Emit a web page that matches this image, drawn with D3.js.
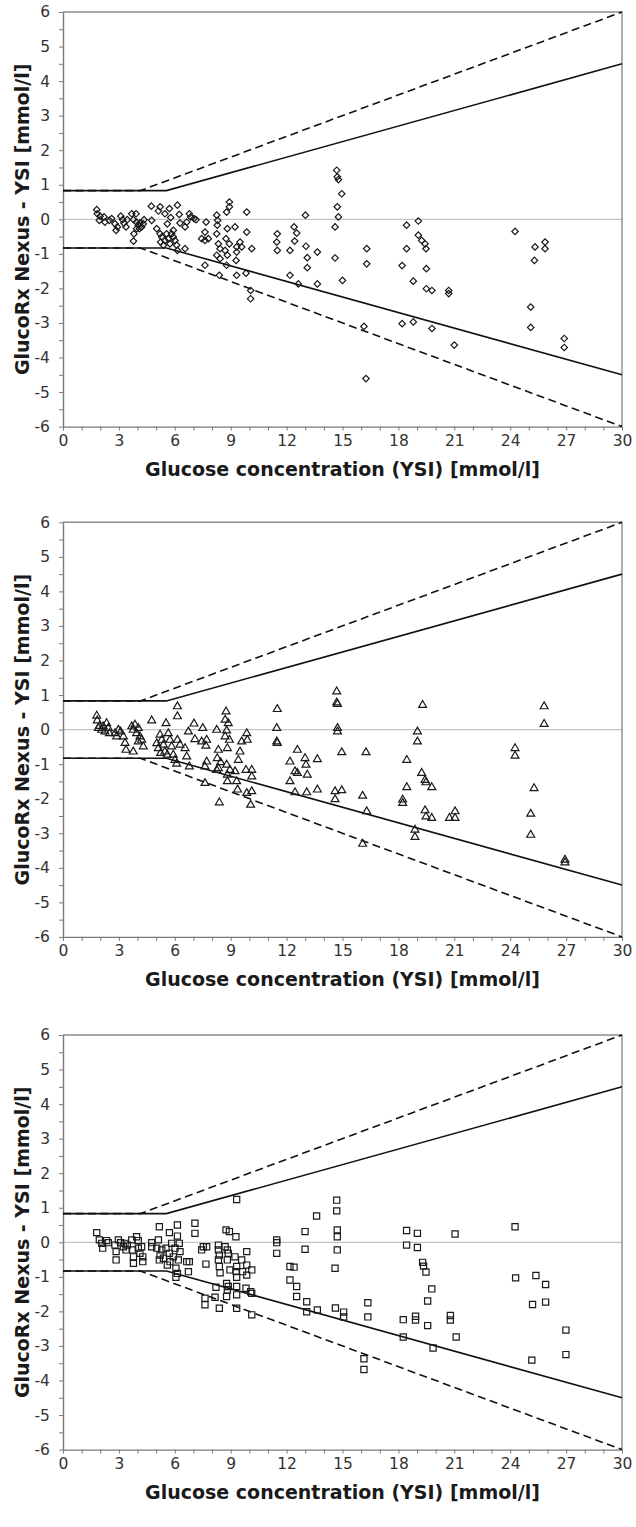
<!DOCTYPE html>
<html>
<head>
<meta charset="utf-8">
<script src="https://cdn.jsdelivr.net/npm/d3@7"></script>
<style>
  html, body { margin: 0; padding: 0; background: #fff; }
  svg { display: block; }
</style>
</head>
<body>
<svg id="chart" width="636" height="1527"></svg>
<script>
// ---------------- DATA ----------------
const xTickValues = [0, 3, 6, 9, 12, 15, 18, 21, 24, 27, 30];
const yTickValues = [-6, -5, -4, -3, -2, -1, 0, 1, 2, 3, 4, 5, 6];
const xTitle = "Glucose concentration (YSI) [mmol/l]";
const yTitle = "GlucoRx Nexus - YSI [mmol/l]";

// limit lines (x, y) : ±0.83 mmol/l below threshold, ±15 % / ±20 % above
const solidUpper = [[0, 0.83], [5.55, 0.83], [30, 4.5]];
const solidLower = [[0, -0.83], [5.55, -0.83], [30, -4.5]];
const dashedUpper = [[0, 0.83], [4.15, 0.83], [30, 6]];
const dashedLower = [[0, -0.83], [4.15, -0.83], [30, -6]];

// panel 1 – diamonds
const diamondPoints = [
  [1.81,0.28],[1.84,0.16],[1.99,0.09],[1.95,-0.03],[2.20,0.07],[2.25,-0.08],[2.49,-0.03],[2.61,0.02],
  [2.79,-0.13],[2.85,-0.32],[2.92,-0.22],[3.10,0.09],[3.20,-0.01],[3.27,-0.11],[3.38,-0.22],[3.45,-0.01],
  [3.69,0.16],[3.92,0.16],[3.78,-0.01],[3.81,-0.42],[3.78,-0.63],[3.95,-0.08],[4.04,-0.17],[4.13,-0.11],
  [4.22,-0.22],[4.31,-0.13],[4.10,-0.27],[4.35,-0.01],[3.95,-0.27],
  [4.74,0.38],[5.21,0.36],[5.71,0.31],[6.14,0.41],[4.76,-0.03],[5.12,0.24],[5.47,0.16],[5.78,0.05],
  [6.24,0.14],[6.28,-0.11],[6.78,0.16],[6.85,0.07],[7.03,0.02],[7.14,-0.01],[6.64,-0.08],[6.55,-0.22],
  [5.60,-0.13],[5.03,-0.27],[5.21,-0.42],[5.30,-0.51],[5.47,-0.61],[5.65,-0.56],[5.74,-0.71],[5.92,-0.51],
  [6.01,-0.61],[6.10,-0.75],[5.39,-0.75],[5.56,-0.42],[5.83,-0.42],[5.24,-0.66],[6.14,-0.90],[6.55,-0.85],
  [5.92,-0.32],
  [7.68,-0.08],[7.62,-0.37],[7.44,-0.56],[7.62,-0.61],[7.80,-0.56],[7.62,-1.33],[8.25,0.12],[8.30,-0.03],
  [8.28,-0.17],[8.25,-0.42],[8.34,-0.71],[8.43,-0.85],[8.25,-1.04],[8.43,-1.14],[8.39,-1.62],[8.78,0.21],
  [8.93,0.36],[8.93,0.50],[8.75,-0.56],[8.70,-0.90],[8.82,-1.04],[8.78,-1.33],[8.82,-0.27],[8.93,-0.71],
  [9.23,-0.22],[9.32,-0.80],[9.32,-0.95],[9.29,-1.19],[9.32,-1.62],[9.50,-0.66],[9.59,-0.80],[9.86,0.21],
  [9.86,-0.37],[10.13,-0.85],[9.82,-1.56],[10.07,-2.06],[10.07,-2.30],
  [11.50,-0.42],[11.47,-0.66],[11.50,-0.90],[12.18,-0.90],[12.18,-1.62],[12.40,-0.22],[12.54,-0.40],
  [12.43,-0.63],[12.63,-1.87],[13.01,0.12],[13.04,-0.78],[13.11,-1.11],[13.11,-1.40],[13.65,-0.95],
  [13.65,-1.87],
  [14.69,1.42],[14.72,1.23],[14.78,1.15],[14.96,0.74],[14.72,0.36],[14.78,0.07],[14.60,-0.22],[14.60,-1.12],
  [15.00,-1.77],[16.30,-0.85],[16.30,-1.29],[16.15,-3.10],[16.26,-4.61],
  [18.44,-0.17],[19.07,-0.05],[19.07,-0.46],[19.25,-0.61],[19.43,-0.71],[19.48,-0.85],[18.44,-0.85],
  [18.20,-1.34],[18.80,-1.79],[19.50,-1.43],[19.50,-2.01],[19.80,-2.06],[20.70,-2.06],[20.70,-2.15],
  [18.20,-3.02],[18.80,-2.97],[19.80,-3.16],[21.00,-3.64],
  [24.26,-0.35],[25.33,-0.80],[25.87,-0.66],[25.87,-0.85],[25.30,-1.19],[25.10,-2.54],[25.10,-3.13],
  [26.90,-3.45],[26.90,-3.71]
];

// panel 2 – triangles
const trianglePoints = [
  [1.81,0.40],[1.84,0.26],[1.95,0.10],[1.90,0.04],[2.08,-0.01],[2.16,0.09],[2.25,-0.06],[2.34,0.18],
  [2.43,0.04],[2.49,-0.11],[2.79,-0.11],[2.88,-0.20],[2.97,-0.01],[3.09,-0.06],[3.24,-0.20],[3.33,-0.39],
  [3.38,-0.59],[3.69,0.09],[3.77,-0.01],[3.86,0.14],[3.95,-0.11],[4.04,0.04],[4.13,-0.20],[4.22,-0.30],
  [3.77,-0.64],[4.31,-0.49],[4.04,-0.35],
  [4.76,0.26],[5.53,0.18],[6.14,0.67],[6.14,0.38],[5.21,-0.15],[5.03,-0.40],[5.12,-0.54],[5.30,-0.30],
  [5.39,-0.44],[5.47,-0.64],[5.65,-0.11],[5.74,-0.30],[5.83,-0.49],[5.92,-0.73],[6.01,-0.88],[6.14,-0.30],
  [6.28,-0.44],[6.55,-0.54],[6.64,-0.78],[6.10,-0.99],[5.60,-0.73],[5.24,-0.68],[6.78,-1.07],
  [6.73,-0.06],[7.03,0.17],[7.08,-0.28],[7.50,0.04],[7.44,-0.35],[7.71,-0.30],[7.67,-0.47],[7.71,-0.93],
  [7.62,-1.07],[7.62,-1.55],[8.39,-2.11],[8.25,-0.01],[8.34,-0.59],[8.28,-0.83],[8.34,-1.12],[8.25,-1.17],
  [8.46,-0.95],[8.75,0.52],[8.70,0.28],[8.87,0.18],[8.78,-0.03],[8.70,-0.20],[8.93,-0.30],[8.82,-0.54],
  [8.78,-1.02],[8.82,-1.31],[8.82,-1.50],[8.96,-1.17],[9.23,-1.21],[9.32,-1.50],[9.37,-1.74],[9.41,-0.88],
  [9.50,-0.64],[9.59,-0.35],[9.86,-0.11],[9.89,-0.30],[9.82,-1.17],[10.13,-1.17],[10.13,-1.36],
  [9.86,-1.84],[10.13,-1.79],[10.07,-2.18],
  [11.50,0.59],[11.47,0.04],[11.47,-0.35],[11.50,-0.39],[12.58,-0.59],[12.18,-0.93],[12.99,-0.83],
  [13.04,-1.02],[12.45,-1.21],[12.58,-1.26],[12.18,-1.50],[13.11,-1.31],[12.45,-1.82],[13.08,-1.82],
  [13.65,-0.86],[13.65,-1.74],
  [14.69,1.10],[14.69,0.78],[14.73,0.74],[14.73,0.04],[14.73,-0.06],[14.96,-0.66],[16.26,-0.66],
  [14.60,-1.79],[14.96,-1.76],[14.60,-2.02],[16.08,-1.92],[16.30,-2.37],[16.08,-3.31],
  [19.30,0.71],[19.02,-0.06],[19.02,-0.35],[18.45,-0.88],[18.45,-1.67],[18.23,-2.03],[18.23,-2.13],
  [19.25,-1.26],[19.43,-1.46],[19.48,-1.53],[19.79,-1.67],[19.43,-2.34],[19.48,-2.52],[19.79,-2.56],
  [20.74,-2.56],[21.04,-2.37],[21.04,-2.56],[18.89,-2.90],[18.89,-3.11],
  [24.26,-0.54],[24.26,-0.76],[25.28,-1.70],[25.10,-2.44],[25.10,-3.05],[25.82,0.67],[25.82,0.16],
  [26.94,-3.77],[26.94,-3.85]
];

// panel 3 – squares
const squarePoints = [
  [1.81,0.28],[1.95,0.07],[2.08,-0.03],[2.13,-0.17],[2.34,0.05],[2.43,-0.01],[2.79,-0.08],[2.85,-0.27],
  [2.85,-0.51],[2.97,0.07],[3.09,-0.01],[3.24,-0.13],[3.33,-0.03],[3.38,-0.22],[3.45,-0.08],[3.69,0.07],
  [3.74,-0.22],[3.78,-0.42],[3.78,-0.61],[3.95,0.16],[4.04,0.05],[4.04,-0.17],[4.13,-0.32],[4.22,-0.13],
  [4.28,-0.42],[4.28,-0.56],
  [4.76,-0.01],[4.76,-0.13],[5.17,0.45],[5.71,0.28],[6.14,0.50],[6.14,0.18],[5.12,0.07],[5.03,-0.17],
  [5.21,-0.37],[5.30,-0.22],[5.17,-0.51],[5.39,-0.46],[5.53,-0.17],[5.60,-0.66],[5.71,-0.32],[5.74,-0.56],
  [5.83,-0.03],[5.92,-0.42],[6.01,-0.17],[6.06,-0.75],[6.06,-1.01],[6.14,-0.90],[6.19,-0.51],[6.24,-0.03],
  [6.28,-0.27],[6.64,-0.56],[6.78,-0.56],[6.73,-0.85],[7.08,0.55],[7.08,0.26],[7.53,-0.13],[7.44,-0.22],
  [7.71,-0.13],[7.67,-0.63],[7.62,-1.62],[7.62,-1.81],
  [8.21,-1.30],[8.16,-1.59],[8.34,-0.08],[8.34,-0.22],[8.39,-0.37],[8.34,-0.51],[8.39,-0.70],[8.43,-0.88],
  [8.39,-1.91],[8.75,0.36],[8.93,0.31],[8.70,-0.13],[8.82,-0.22],[8.87,-0.32],[8.82,-0.51],[8.96,-0.80],
  [8.78,-1.19],[8.82,-1.38],[8.78,-1.57],[8.87,-1.28],[9.28,0.16],[9.23,-0.42],[9.32,-0.70],[9.29,-0.85],
  [9.32,-1.01],[9.32,-1.28],[9.32,-1.52],[9.32,-1.91],[9.59,-0.51],[9.64,-0.85],[9.86,-0.27],[9.86,-0.66],
  [9.86,-0.95],[9.82,-1.33],[10.13,-0.80],[10.07,-1.43],[10.13,-1.48],[10.13,-2.10],[9.32,1.24],
  [11.47,0.07],[11.47,-0.01],[11.47,-0.32],[12.18,-0.70],[12.40,-0.72],[12.18,-1.09],[12.54,-1.28],
  [12.54,-1.57],[12.99,0.31],[12.99,-0.20],[13.08,-1.72],[13.08,-2.01],[13.61,0.76],[13.65,-1.96],
  [14.69,1.22],[14.69,0.91],[14.72,0.36],[14.72,0.16],[14.72,-0.22],[14.60,-0.75],[14.62,-1.90],
  [15.06,-2.02],[15.06,-2.16],[16.36,-1.75],[16.36,-2.16],[16.15,-3.37],[16.15,-3.68],
  [18.44,0.34],[19.02,0.26],[18.44,-0.08],[19.02,-0.15],[19.30,-0.58],[19.35,-0.69],[19.48,-0.86],
  [18.26,-2.24],[18.26,-2.74],[18.92,-2.14],[18.92,-2.25],[19.79,-1.35],[19.57,-1.70],[19.57,-2.41],
  [19.86,-3.06],[20.79,-2.12],[20.79,-2.25],[21.10,-2.74],[21.04,0.24],
  [24.26,0.45],[24.29,-1.03],[25.38,-0.96],[25.90,-1.22],[25.20,-1.80],[25.90,-1.73],[25.16,-3.41],
  [26.99,-2.54],[26.99,-3.25]
];

// ---------------- DRAWING ----------------
const svg = d3.select("#chart");
const plotLeft = 63, plotRight = 622, plotHeight = 414.6;
const panels = [
  { top: 12,    data: diamondPoints,  marker: "diamond" },
  { top: 522.3, data: trianglePoints, marker: "triangle" },
  { top: 1035,  data: squarePoints,   marker: "square" }
];
const fontFamily = "'DejaVu Sans', Verdana, sans-serif";

panels.forEach(p => {
  const x = d3.scaleLinear().domain([0, 30]).range([plotLeft, plotRight]);
  const y = d3.scaleLinear().domain([-6, 6]).range([p.top + plotHeight, p.top]);
  const g = svg.append("g");

  // zero line
  g.append("line")
    .attr("x1", x(0)).attr("x2", x(30))
    .attr("y1", y(0)).attr("y2", y(0))
    .attr("stroke", "#c4c4c4").attr("stroke-width", 1.2);

  // frame (top & right)
  g.append("path")
    .attr("d", `M${x(0)},${y(6)}H${x(30)}V${y(-6)}`)
    .attr("fill", "none").attr("stroke", "#8c8c8c").attr("stroke-width", 1.4);

  // y axis
  const yAxis = d3.axisLeft(y)
    .tickValues(d3.range(-6, 6.001, 0.5))
    .tickFormat(d => yTickValues.includes(d) ? String(d) : "")
    .tickSize(4).tickSizeOuter(0).tickPadding(9);
  const ya = g.append("g").attr("transform", `translate(${x(0)},0)`).call(yAxis);
  ya.select(".domain").attr("stroke", "#7a7a7a").attr("stroke-width", 1.4);
  ya.selectAll(".tick line").attr("stroke", "#7a7a7a").attr("stroke-width", 1);
  ya.selectAll(".tick text").attr("font-family", fontFamily).attr("font-size", 15.5).attr("fill", "#333");

  // x axis
  const xAxis = d3.axisBottom(x)
    .tickValues(d3.range(0, 30.001, 1))
    .tickFormat(d => xTickValues.includes(d) ? String(d) : "")
    .tickSize(4).tickSizeOuter(0).tickPadding(4);
  const xa = g.append("g").attr("transform", `translate(0,${y(-6)})`).call(xAxis);
  xa.select(".domain").attr("stroke", "#7a7a7a").attr("stroke-width", 1.4);
  xa.selectAll(".tick line").attr("stroke", "#7a7a7a").attr("stroke-width", 1);
  xa.selectAll(".tick text").attr("font-family", fontFamily).attr("font-size", 15.5).attr("fill", "#333");

  // limit lines
  const line = d3.line().x(d => x(d[0])).y(d => y(d[1]));
  [dashedUpper, dashedLower].forEach(L => {
    g.append("path").attr("d", line(L)).attr("fill", "none")
      .attr("stroke", "#111").attr("stroke-width", 1.6).attr("stroke-dasharray", "8,4.5");
  });
  [solidUpper, solidLower].forEach(L => {
    g.append("path").attr("d", line(L)).attr("fill", "none")
      .attr("stroke", "#111").attr("stroke-width", 1.6);
  });

  // markers
  let sym;
  if (p.marker === "diamond") sym = d3.symbol().type(d3.symbolSquare).size(21);
  else if (p.marker === "triangle") sym = d3.symbol().type(d3.symbolTriangle).size(27);
  else sym = d3.symbol().type(d3.symbolSquare).size(38);
  g.append("g").selectAll("path")
    .data(p.data)
    .join("path")
    .attr("d", sym())
    .attr("transform", d => `translate(${x(d[0])},${y(d[1])})` + (p.marker === "diamond" ? " rotate(45)" : ""))
    .attr("fill", "none")
    .attr("stroke", "#1a1a1a")
    .attr("stroke-width", 1.2);

  // axis titles
  g.append("text")
    .attr("x", (x(0) + x(30)) / 2)
    .attr("y", y(-6) + 49)
    .attr("text-anchor", "middle")
    .attr("font-family", fontFamily).attr("font-weight", "bold")
    .attr("font-size", 19).attr("fill", "#1a1a1a")
    .text(xTitle);
  g.append("text")
    .attr("transform", `translate(29,${y(0)}) rotate(-90)`)
    .attr("text-anchor", "middle")
    .attr("font-family", fontFamily).attr("font-weight", "bold")
    .attr("font-size", 19).attr("fill", "#1a1a1a")
    .text(yTitle);
});
</script>
</body>
</html>
